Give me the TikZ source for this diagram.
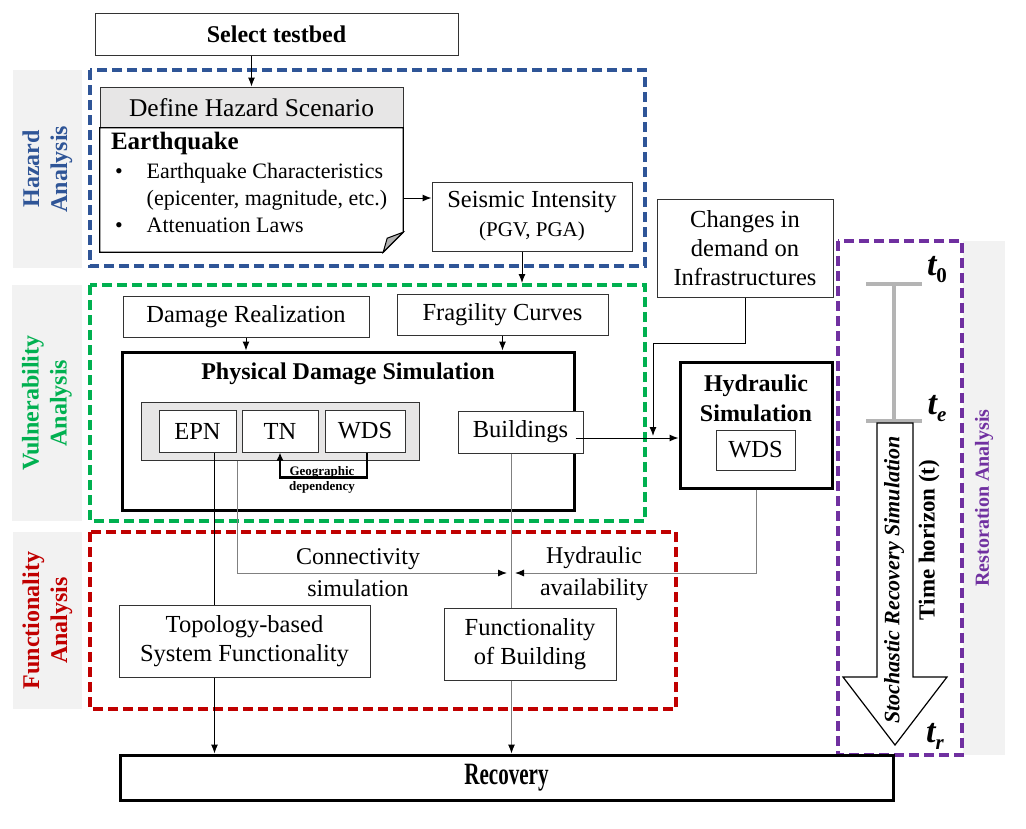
\documentclass[tikz,border=0pt]{standalone}
\usepackage{fontspec}
\setmainfont{Liberation Serif}
\usepackage{graphicx}
\usetikzlibrary{arrows.meta}
\usetikzlibrary{positioning}

\definecolor{hazblue}{HTML}{2F5597}
\definecolor{vulgreen}{HTML}{00B050}
\definecolor{funred}{HTML}{C00000}
\definecolor{respurple}{HTML}{7030A0}
\definecolor{sidegray}{HTML}{F2F2F2}
\definecolor{hdrgray}{HTML}{E7E6E6}
\definecolor{bargray}{HTML}{B4B4B4}

\newcommand{\tmark}[2]{{\bfseries\itshape #1}\raisebox{-7pt}{\fontsize{21}{21}\selectfont\bfseries #2}}

\tikzset{
    box/.style={draw=black!80, line width=1pt, fill=white, inner sep=0pt, align=center, font=\fontsize{24.5}{29}\selectfont},
    heavybox/.style={box, draw=black, line width=3pt},
    zone/.style={line width=3.2pt, dash pattern=on 10pt off 5pt},
    side/.style={fill=sidegray, rotate=90, inner sep=0pt, align=center, font=\bfseries\fontsize{24}{28}\selectfont},
    tlbl/.style={font=\fontsize{34}{34}\selectfont, inner sep=0pt},
    arr/.style={line width=1pt, -{Latex[length=9pt,width=7pt]}},
    greyarr/.style={draw=gray, line width=1pt, -{Latex[length=9pt,width=7pt,color=black]}},
}

\begin{document}
\begin{tikzpicture}[x=1pt,y=-1pt]
        \useasboundingbox (0,0) rectangle (1026,828);

        \node[side, text=hazblue, minimum width=198pt, minimum height=69pt] (hazlbl) at (47.5,169) {Hazard\\Analysis};
        \node[side, text=vulgreen, minimum width=236pt, minimum height=70pt] (vullbl) at (47,403) {Vulnerability\\Analysis};
        \node[side, text=funred, minimum width=177pt, minimum height=69pt] (funlbl) at (47.5,620.5) {Functionality\\Analysis};
        \node[side, text=respurple, minimum width=514pt, minimum height=42pt, font=\bfseries\fontsize{20}{24}\selectfont] (reslbl) at (984,498) {Restoration Analysis};

        \draw[zone, hazblue] (90,70) rectangle (645,266);
        \draw[zone, vulgreen] (90,285) rectangle (645,521);
        \draw[zone, funred] (90,532) rectangle (676,709);
        \draw[zone, respurple] (838,241) rectangle (962,755);

        % hazard
        \node[box, minimum width=363pt, minimum height=42pt, font=\bfseries\fontsize{24}{29}\selectfont] (select) at (276.5,34) {Select testbed};
        \node[box, fill=hdrgray, minimum width=303pt, minimum height=41pt, font=\fontsize{25.5}{30}\selectfont] (scen) at (251.5,107.5) {Define Hazard Scenario};
        \node[minimum width=303pt, minimum height=124pt, inner sep=0pt] (quake) at (251.5,190) {};
        \draw[line width=1.2pt, fill=white] (quake.north west) -- (quake.north east) -- ([yshift=20pt]quake.south east) -- ([xshift=-20pt]quake.south east) -- (quake.south west) -- cycle;
        \filldraw[line width=1pt, fill=black!30] ([yshift=20pt]quake.south east) -- ([xshift=-20pt]quake.south east) -- ([xshift=-16pt,yshift=14pt]quake.south east) -- cycle;
        \node[anchor=north west, inner sep=0pt, align=left, font=\fontsize{22}{27}\selectfont] (quaketxt) at ([xshift=11pt,yshift=-3pt]quake.north west) {%
            \begin{tabular}{@{\hspace{4pt}}l@{\hspace{24pt}}l@{}}
            \multicolumn{2}{@{}l}{\fontsize{25}{30}\selectfont\bfseries Earthquake}\\[2pt]
            \textbullet & Earthquake Characteristics\\
             & (epicenter, magnitude, etc.)\\
            \textbullet & Attenuation Laws
            \end{tabular}};
        \node[box, minimum width=200pt, minimum height=69pt] (seismic) at (532,216.5) {Seismic Intensity\\{\fontsize{21}{26}\selectfont (PGV, PGA)}};
        \node[box, minimum width=176pt, minimum height=98pt] (demand) at (745,248) {Changes in\\demand on\\Infrastructures};

        % vulnerability
        \node[box, minimum width=246pt, minimum height=41pt] (dmgreal) at (246,316.5) {Damage Realization};
        \node[box, minimum width=211pt, minimum height=41pt] (fragility) at (502.5,314.5) {Fragility Curves};
        \node[heavybox, minimum width=452pt, minimum height=158pt] (phys) at (348,431) {};
        \node[font=\bfseries\fontsize{24}{29}\selectfont] (physlbl) at (348,374) {Physical Damage Simulation};
        \node[box, fill=hdrgray, minimum width=278pt, minimum height=58pt] (grp) at (280,431) {};
        \node[box, minimum width=77pt, minimum height=42pt] (epn) at (197.5,431) {EPN};
        \node[box, minimum width=76pt, minimum height=42pt] (tn) at (280,431) {TN};
        \node[box, minimum width=80pt, minimum height=42pt] (wds) at (365,431) {WDS};
        \node[box, minimum width=125pt, minimum height=42pt] (bldg) at (520.5,432) {Buildings};
        \node[font=\bfseries\fontsize{13}{15}\selectfont, align=center, inner sep=0pt] (geolbl) at (322,480) {Geographic\\dependency};
        \node[heavybox, minimum width=152pt, minimum height=126pt] (hyd) at (756,425) {};
        \node[font=\bfseries\fontsize{24}{30}\selectfont, align=center] (hydlbl) at (756,398) {Hydraulic\\Simulation};
        \node[box, minimum width=79pt, minimum height=40pt] (hydwds) at (755.5,450) {WDS};

        % functionality
        \node[box, minimum width=251pt, minimum height=72pt] (topo) at (244.5,641) {Topology-based\\System Functionality};
        \node[box, minimum width=172pt, minimum height=72pt] (funcb) at (530,644) {Functionality\\of Building};
        \node[font=\fontsize{24}{32}\selectfont, align=center] (connlbl) at (358,573) {Connectivity\\simulation};
        \node[font=\fontsize{24}{32}\selectfont, align=center] (hyavlbl) at (594,574) {Hydraulic\\availability};
        \node[heavybox, minimum width=773pt, minimum height=45pt, font=\bfseries\fontsize{31}{34}\selectfont] (recov) at (506.5,777.5) {\scalebox{0.68}[1]{Recovery}};

        % restoration
        \coordinate (t0) at (894,284);
        \coordinate (te) at (894,421);
        \draw[bargray, line width=4pt] ([xshift=-28pt]t0) -- ([xshift=28pt]t0) (t0) -- (te) ([xshift=-28pt]te) -- ([xshift=28pt]te);
        \draw[line width=1.2pt, fill=white] (877,423) -- (913,423) -- (913,677) -- (947,677) -- (895,745) -- (843,677) -- (877,677) -- cycle;
        \node[rotate=90, font=\bfseries\itshape\fontsize{22}{26}\selectfont] (stochlbl) at (894,580) {Stochastic Recovery Simulation};
        \node[rotate=90, font=\bfseries\fontsize{23}{27}\selectfont] (horizlbl) at (929,540) {Time horizon (t)};
        \node[tlbl] (t0lbl) at (937,270) {\tmark{t}{0}};
        \node[tlbl] (telbl) at (937,409) {\tmark{t}{\itshape e}};
        \node[tlbl] (trlbl) at (935,736) {\tmark{t}{\itshape r}};

        % connectors
        \draw[arr] (scen.north |- select.south) -- (scen.north);
        \draw[arr] ([yshift=-8pt]quake.east) coordinate (q1) -- (q1 -| seismic.west);
        \coordinate (vtop) at (522,283);
        \draw[arr] (vtop |- seismic.south) -- (vtop);
        \draw[arr] (dmgreal.south) -- (dmgreal.south |- phys.north);
        \draw[arr] (fragility.south) -- (fragility.south |- phys.north);
        \draw[arr] ([yshift=-7pt]phys.east) coordinate (p1) -- (p1 -| hyd.west);
        \coordinate (dmend) at (653,436);
        \draw[arr] (demand.south) -- ++(0,46) -| (dmend);
        \draw[line width=2.2pt, -{Latex[length=8pt,width=7pt]}] ([xshift=2pt]wds.south) -- ++(0,25) -| (tn.south);
        \draw[line width=1pt] ([xshift=17pt]epn.south) coordinate (e1) -- (e1 |- topo.north);
        \draw[arr] (e1 |- topo.south) -- (e1 |- recov.north);
        \coordinate (jl) at (507,573);
        \coordinate (jr) at (515,573);
        \draw[greyarr] ([xshift=-43pt]grp.south) |- (jl);
        \draw[draw=gray, line width=1pt] ([xshift=-9pt]bldg.south) coordinate (b1) -- (b1 |- funcb.north);
        \draw[greyarr] (b1 |- funcb.south) -- (b1 |- recov.north);
        \draw[greyarr] (hyd.south) |- (jr);
\end{tikzpicture}
\end{document}
